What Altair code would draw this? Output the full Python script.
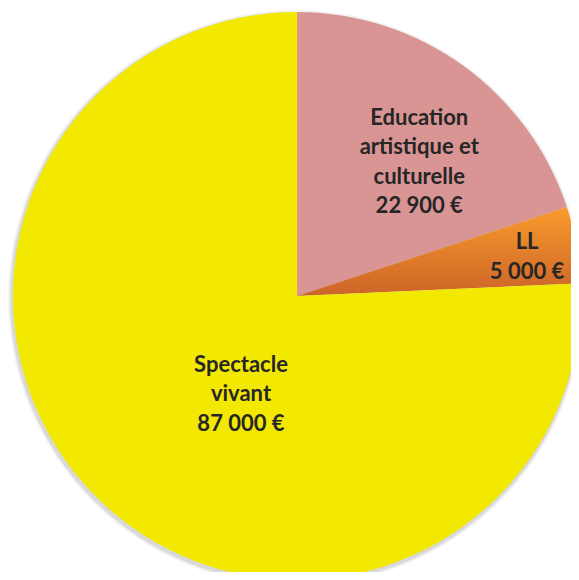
import math
import altair as alt
import pandas as pd

# ---- data ----
categories = ["Education\nartistique et\nculturelle", "LL", "Spectacle\nvivant"]
keys = ["edu", "ll", "sv"]
values = [22900, 5000, 87000]
order = [1, 2, 3]


def euro(v):
    return f"{v:,}".replace(",", " ") + " €"


labels = [f"{c}\n{euro(v)}" for c, v in zip(categories, values)]
df = pd.DataFrame({"key": keys, "value": values, "order": order, "label": labels})

# ---- layout / style ----
W, H = 563, 564
CX, CY = 289, 288
R = 284
gradient_ll = {
    "gradient": "linear", "x1": 0, "y1": 0, "x2": 0, "y2": 1,
    "stops": [{"offset": 0, "color": "#FA9B2C"}, {"offset": 1, "color": "#CC6428"}],
}

base = alt.Chart(df).encode(
    theta=alt.Theta("value:Q", stack=True),
    order=alt.Order("order:Q", sort="ascending"),
    x=alt.value(CX),
    y=alt.value(CY),
)

shadow_df = pd.DataFrame({"s": [0]})
shadow1 = alt.Chart(shadow_df).mark_arc(radius=R + 4, color="#000000", opacity=0.05).encode(
    theta=alt.value(0), theta2=alt.value(2 * math.pi), x=alt.value(CX - 1), y=alt.value(CY + 2)
)
shadow2 = alt.Chart(shadow_df).mark_arc(radius=R + 2, color="#000000", opacity=0.10).encode(
    theta=alt.value(0), theta2=alt.value(2 * math.pi), x=alt.value(CX - 1), y=alt.value(CY + 2)
)

pie = base.mark_arc(radius=R).encode(
    fill=alt.when(alt.datum.key == "ll").then(alt.value(gradient_ll))
    .when(alt.datum.key == "sv").then(alt.value("#F3E800"))
    .otherwise(alt.value("#D99594"))
)


def label_layer(key, r, dx, dy):
    return base.transform_calculate(
        lab=f"datum.key == '{key}' ? datum.label : ''"
    ).mark_text(
        radius=r, dx=dx, dy=dy, font="Lato", fontWeight="bold", fontSize=22,
        lineBreak="\n", lineHeight=29.5, color="#262626", align="center", baseline="middle",
    ).encode(text="lab:N")


chart = alt.layer(
    shadow1, shadow2, pie,
    label_layer("edu", 183, 15, -30),
    label_layer("ll", 237, -3, -11),
    label_layer("sv", 110, 20, -11),
).properties(
    width=W, height=H, padding=0, autosize=alt.AutoSizeParams(type="none"), background="white"
).configure_view(stroke=None)

chart.save("out.html", embed_options={"renderer": "svg", "actions": False})
